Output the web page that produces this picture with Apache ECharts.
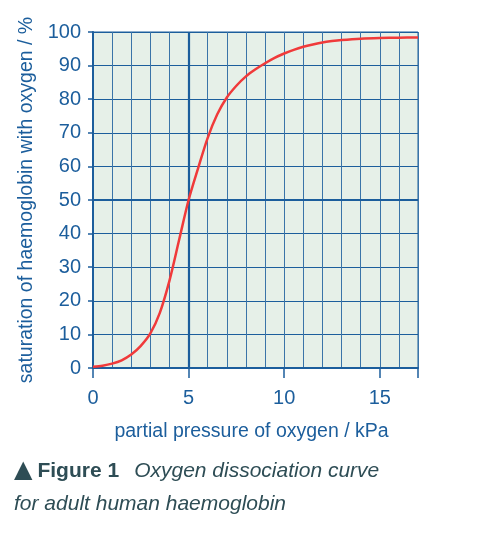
<!DOCTYPE html>
<html><head><meta charset="utf-8">
<script src="https://cdn.jsdelivr.net/npm/echarts@6/dist/echarts.min.js"></script>
<style>html,body{margin:0;padding:0;background:#fff}#c{width:488px;height:535px}</style>
</head><body><div id="c"></div>
<script>
const pressureKPa = [0,0.5,1,1.5,2,2.5,3,3.5,4,4.5,5,5.5,6,6.5,7,7.5,8,8.5,9,9.5,10,10.5,11,11.5,12,12.5,13,14,15,16,17];
const saturationPct = [0.4,0.7,1.3,2.3,4,6.6,10.3,16.5,26,38,50,59.5,68.5,75.5,80.5,84,86.8,88.9,90.7,92.3,93.6,94.7,95.6,96.3,96.9,97.3,97.6,98,98.2,98.3,98.4];
const xTickLabels = [0,5,10,15];
const yTickLabels = [0,10,20,30,40,50,60,70,80,90,100];
const xTitle = 'partial pressure of oxygen / kPa';
const yTitle = 'saturation of haemoglobin with oxygen / %';

const blue = '#1c5e9c';
const gridBlue = '#3a74a8';
const font = 'Liberation Sans, Arial, sans-serif';
const chart = echarts.init(document.getElementById('c'));
chart.setOption({
  animation: false,
  grid: {left: 93, right: 70, top: 32, bottom: 167, show: true, backgroundColor: '#e6f0e8', borderColor: blue, borderWidth: 1},
  xAxis: [{
    type: 'value', min: 0, max: 17, interval: 1,
    axisLine: {show: false}, axisTick: {show: false}, axisLabel: {show: false},
    splitLine: {show: true, lineStyle: {color: gridBlue, width: 1}}
  }, {
    type: 'value', min: 0, max: 17, interval: 5, position: 'bottom',
    name: xTitle, nameLocation: 'middle', nameGap: 54,
    nameTextStyle: {color: blue, fontSize: 19.5, fontFamily: font, padding: [0, 8, 0, 0]},
    axisLine: {show: true, lineStyle: {color: blue, width: 2}},
    axisTick: {show: true, length: 10, lineStyle: {color: blue, width: 1.5}},
    axisLabel: {color: blue, fontSize: 20, fontFamily: font, margin: 20,
      formatter: v => xTickLabels.includes(v) ? String(v) : ''},
    splitLine: {show: false}
  }],
  yAxis: {
    type: 'value', min: 0, max: 100, interval: 10,
    name: yTitle, nameLocation: 'middle', nameGap: 54, nameRotate: 90,
    nameTextStyle: {color: blue, fontSize: 19.5, fontFamily: font},
    axisLine: {show: true, lineStyle: {color: blue, width: 2}},
    axisTick: {show: true, length: 5, lineStyle: {color: blue, width: 1.5}},
    axisLabel: {color: blue, fontSize: 20, fontFamily: font, margin: 12,
      formatter: v => yTickLabels.includes(v) ? String(v) : ''},
    splitLine: {show: true, lineStyle: {color: blue, width: 1}}
  },
  series: [{
    type: 'line', xAxisIndex: 0, smooth: 0.3, symbol: 'none',
    data: pressureKPa.map((x, i) => [x, saturationPct[i]]),
    lineStyle: {color: '#f03a3a', width: 2.5},
    z: 5,
    markLine: {
      silent: true, symbol: 'none', label: {show: false},
      lineStyle: {color: blue, width: 2.2, type: 'solid'},
      data: [{xAxis: 5}, {yAxis: 50}],
      z: 3
    }
  }],
  graphic: [{
    type: 'text', left: 14, top: 459,
    style: {
      text: '{t|▲}{b|Figure 1}{i|Oxygen dissociation curve}\n{i|for adult human haemoglobin}',
      rich: {
        t: {fontSize: 24, fill: '#2e4d55', fontFamily: 'DejaVu Sans', lineHeight: 33, padding: [0, 5, 0, 0]},
        b: {fontSize: 21, fontWeight: 'bold', fill: '#2e4d55', fontFamily: font, lineHeight: 33, padding: [0, 15, 0, 0]},
        i: {fontSize: 21, fontStyle: 'italic', fill: '#2e4d55', fontFamily: font, lineHeight: 33}
      }
    }
  }]
});
</script></body></html>
